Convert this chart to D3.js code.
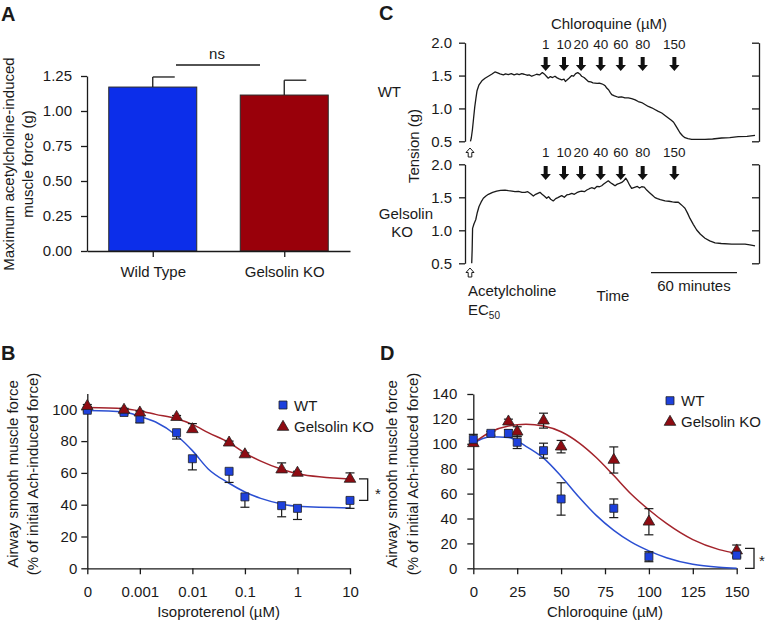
<!DOCTYPE html>
<html><head><meta charset="utf-8">
<script src="https://cdn.jsdelivr.net/npm/d3@7"></script>
<style>
body{margin:0;background:#fff}
svg{display:block;font-family:"Liberation Sans",Arial,Helvetica,sans-serif}
</style></head><body>
<svg id="c" width="767" height="623"></svg>
<script>
// ================= DATA =================
// Panel A
const groupsA = ["Wild Type", "Gelsolin KO"];
const meansA = [1.171, 1.114];
const semA = [0.072, 0.106];
const ticksA = [0, 0.25, 0.5, 0.75, 1.0, 1.25];

// Panel B (isoproterenol, µM; 0 drawn at the axis origin)
const isoConc = [0, 0.0005, 0.001, 0.005, 0.01, 0.05, 0.1, 0.5, 1, 10];
const isoWT = [99.4, 98.0, 94.0, 85.3, 68.9, 61.0, 44.9, 39.4, 37.7, 42.7];
const isoWTsem = [1.0, 1.0, 2.5, 4.0, 7.0, 7.0, 6.5, 7.0, 7.0, 5.0];
const isoKO = [102.0, 99.6, 97.9, 95.1, 87.4, 79.0, 71.6, 62.1, 60.0, 56.2];
const isoKOsem = [1.0, 1.0, 1.0, 1.0, 3.6, 1.0, 1.0, 4.2, 1.0, 3.8];
const isoFitConc = [0, 0.0005, 0.001, 0.002, 0.005, 0.01, 0.02, 0.05, 0.1, 0.2, 0.5, 1, 10];
const isoFitWT = [99.2, 98.3, 95.5, 92.0, 83.5, 74.0, 62.5, 53.5, 48.0, 44.0, 40.5, 39.0, 38.0];
const isoFitKO = [101.1, 100.4, 99.0, 96.8, 94.0, 90.5, 85.3, 79.0, 72.5, 67.4, 62.3, 59.5, 56.2];
const isoTicks = [0, 0.001, 0.01, 0.1, 1, 10];
const isoTickLabels = ["0", "0.001", "0.01", "0.1", "1", "10"];
const forceTicksB = [0, 20, 40, 60, 80, 100];
const sigBracketB = [56.2, 42.7];

// Panel C (time in minutes, tension in g)
const wtTime = [1.0,1.6,2.4,3.2,4.0,4.8,5.6,7.0,9.0,11.2,13.5,15.8,18.1,20.0,21.6,24.0,25.5,27.4,29.5,31.5,33.5,35.0,36.8,38.5,40.5,42.0,43.8,45.5,47.2,49.2,51.2,52.5,54.0,55.3,56.8,58.3,60.0,61.5,63.0,64.7,66.3,67.3,68.2,69.8,71.7,73.0,74.4,75.9,77.3,78.6,80.3,81.8,83.3,85.0,86.5,87.9,89.5,91.0,92.6,94.0,95.2,96.1,97.5,98.6,99.6,101.5,104.2,106.5,108.8,111.2,113.5,116.0,118.1,120.5,122.8,125.1,127.5,130.0,132.1,134.5,137.0,139.1,141.2,142.8,143.8,145.3,147.2,149.0,150.7,152.8,155.4,160.0,164.7,170.0,176.3,182.0,187.9,194.0,199.6];
const wtTension = [0.50,0.55,0.68,0.85,1.02,1.15,1.27,1.36,1.42,1.46,1.49,1.52,1.555,1.54,1.525,1.51,1.525,1.515,1.53,1.51,1.525,1.515,1.53,1.52,1.505,1.51,1.49,1.505,1.52,1.51,1.545,1.525,1.49,1.46,1.485,1.47,1.49,1.465,1.45,1.435,1.445,1.41,1.43,1.46,1.50,1.49,1.53,1.545,1.525,1.49,1.47,1.44,1.41,1.405,1.39,1.385,1.38,1.385,1.375,1.36,1.34,1.31,1.28,1.24,1.21,1.19,1.17,1.175,1.16,1.16,1.15,1.13,1.105,1.09,1.06,1.03,1.01,0.98,0.955,0.93,0.89,0.855,0.82,0.79,0.755,0.70,0.63,0.585,0.555,0.54,0.53,0.53,0.53,0.535,0.55,0.555,0.57,0.575,0.59];
const koTime = [1.9,2.2,2.5,3.5,4.7,5.8,7.0,8.5,10.0,11.8,13.5,16.5,19.3,22.0,25.1,27.5,30.0,32.1,34.5,37.0,39.1,41.0,43.0,44.9,46.5,48.0,49.5,51.0,52.5,54.2,55.5,57.0,58.8,60.5,62.0,63.3,64.7,66.5,68.2,70.0,71.7,73.5,75.2,77.0,78.6,80.5,82.2,84.0,85.6,87.5,89.2,91.0,92.6,94.0,95.5,97.2,98.8,100.3,101.9,103.5,105.0,106.6,108.0,109.4,110.8,112.2,113.5,115.5,117.5,119.0,120.5,122.3,124.0,126.0,128.0,129.8,131.5,133.5,136.8,139.5,142.0,144.0,146.1,147.5,149.0,150.7,152.5,154.2,156.5,158.9,161.5,164.7,168.0,171.7,176.0,183.3,188.0,192.6,196.0,199.6];
const koTension = [0.50,0.70,1.03,1.10,1.16,1.27,1.36,1.43,1.485,1.52,1.545,1.575,1.595,1.605,1.61,1.60,1.595,1.585,1.59,1.575,1.575,1.585,1.555,1.52,1.545,1.56,1.575,1.545,1.52,1.485,1.51,1.47,1.445,1.48,1.495,1.51,1.525,1.50,1.535,1.545,1.56,1.545,1.57,1.585,1.595,1.585,1.61,1.63,1.645,1.63,1.665,1.66,1.675,1.70,1.725,1.75,1.72,1.70,1.675,1.70,1.71,1.725,1.75,1.79,1.74,1.68,1.635,1.65,1.665,1.64,1.66,1.655,1.61,1.57,1.53,1.495,1.48,1.465,1.445,1.44,1.43,1.425,1.425,1.40,1.37,1.335,1.26,1.18,1.09,1.005,0.94,0.88,0.84,0.81,0.80,0.79,0.79,0.79,0.78,0.765];
const cqAddTimes = [53.5, 66.3, 78.2, 91.9, 105.9, 121.2, 143.3];
const cqAddLabels = ["1", "10", "20", "40", "60", "80", "150"];
const tensionTicks = [0.5, 1.0, 1.5, 2.0];
const achTime = 0.7;
const scaleBarStart = 127;
const scaleBarMinutes = 60;

// Panel D (chloroquine, µM)
const cqConcWT = [0, 10, 20, 25, 40, 50, 80, 100, 150];
const cqWT = [103.6, 108.4, 108.4, 101.2, 94.5, 55.7, 48.2, 9.3, 10.5];
const cqWTsem = [4.0, 1.5, 3.0, 5.0, 6.0, 13.0, 7.5, 4.0, 2.0];
const cqConcKO = [0, 20, 25, 40, 50, 80, 100, 150];
const cqKO = [100.4, 117.8, 109.7, 118.6, 97.7, 87.0, 37.4, 14.2];
const cqKOsem = [2.0, 2.0, 4.0, 6.0, 5.0, 10.5, 10.5, 4.5];
const cqFitConcWT = [0, 5, 10, 20, 30, 40, 50, 60, 70, 80, 90, 100, 110, 125, 140, 150];
const cqFitWT = [100.4, 104.0, 105.7, 105.0, 98.0, 88.5, 74.0, 57.5, 42.5, 30.5, 21.0, 14.0, 8.5, 3.2, 0.8, 0.0];
const cqFitConcKO = [0, 10, 20, 30, 40, 50, 60, 70, 80, 90, 100, 110, 125, 140, 150];
const cqFitKO = [100.5, 109.7, 114.3, 115.7, 114.3, 109.7, 101.0, 89.0, 74.5, 59.5, 47.0, 36.0, 23.0, 15.0, 12.0];
const cqTicks = [0, 25, 50, 75, 100, 125, 150];
const forceTicksD = [0, 20, 40, 60, 80, 100, 120, 140];
const sigBracketD = [16, 0];

// ================= DRAWING =================
const svg = d3.select("#c");
const INK = "#1a1a1a";
const BLUE_BAR = "#0c2eea", RED_BAR = "#99000a";
const BLUE_PT = "#1d40dc", RED_PT = "#8e0b12";
const BLUE_LN = "#2b4fd2", RED_LN = "#a3232b";

function text(x, y, s, o = {}) {
  const t = svg.append("text").attr("x", x).attr("y", y)
    .attr("font-size", o.size || 15).attr("fill", INK)
    .attr("text-anchor", o.anchor || "start");
  if (o.weight) t.attr("font-weight", o.weight);
  if (o.rotate) t.attr("transform", `rotate(-90,${x},${y})`);
  t.text(s);
  return t;
}
function styleAxis(g, size) {
  g.selectAll(".domain").attr("stroke", INK).attr("stroke-width", 1.3);
  g.selectAll(".tick line").attr("stroke", INK).attr("stroke-width", 1.3);
  g.selectAll(".tick text").attr("font-size", size || 15).attr("fill", INK)
    .attr("font-family", '"Liberation Sans",Arial,Helvetica,sans-serif');
}
const sq = d3.symbol().type(d3.symbolSquare).size(64);
const tri = d3.symbol().type(d3.symbolTriangle).size(58);

// ---------- Panel A ----------
text(1, 21, "A", { size: 20, weight: "bold" });
const yA = d3.scaleLinear().domain([0, 1.25]).range([251, 76]);
const xA = d3.scalePoint().domain(groupsA).range([87, 350]).padding(0.5);
const barW = 88;
svg.append("g").selectAll("rect").data(groupsA).join("rect")
  .attr("x", d => xA(d) - barW / 2).attr("y", (d, i) => yA(meansA[i]))
  .attr("width", barW).attr("height", (d, i) => yA(0) - yA(meansA[i]))
  .attr("fill", (d, i) => i === 0 ? BLUE_BAR : RED_BAR)
  .attr("stroke", "#2a2a2a").attr("stroke-width", 1);
const errA = svg.append("g").attr("stroke", INK).attr("stroke-width", 1.3);
groupsA.forEach((g, i) => {
  const x = xA(g), yt = yA(meansA[i] + semA[i]);
  errA.append("line").attr("x1", x).attr("x2", x).attr("y1", yA(meansA[i])).attr("y2", yt);
  errA.append("line").attr("x1", x).attr("x2", x + 22).attr("y1", yt).attr("y2", yt);
});
const axAy = svg.append("g").attr("transform", "translate(87,0)")
  .call(d3.axisLeft(yA).tickValues(ticksA).tickFormat(d3.format(".2f")).tickSize(6).tickSizeOuter(0).tickPadding(9));
styleAxis(axAy);
const axAx = svg.append("g").attr("transform", "translate(0,251)")
  .call(d3.axisBottom(xA).tickSize(6).tickSizeOuter(0).tickPadding(9));
styleAxis(axAx);
svg.append("line").attr("x1", 176).attr("x2", 260).attr("y1", 65).attr("y2", 65).attr("stroke", INK).attr("stroke-width", 1.3);
text(217, 59, "ns", { anchor: "middle" });
text(14, 164, "Maximum acetylcholine-induced", { rotate: true, anchor: "middle" });
text(33, 164, "muscle force (g)", { rotate: true, anchor: "middle" });

// ---------- Panel B ----------
text(1, 360, "B", { size: 20, weight: "bold" });
const yB = d3.scaleLinear().domain([0, 110]).range([568.3, 393.4]);
const xBlog = d3.scaleLog().domain([1e-4, 10]).range([87.3, 350]);
const xB = v => xBlog(v === 0 ? 1e-4 : v);
const axBy = svg.append("g").attr("transform", "translate(87.3,0)")
  .call(d3.axisLeft(yB).tickValues(forceTicksB).tickSize(6).tickSizeOuter(0).tickPadding(4));
styleAxis(axBy);
const axBx = svg.append("g").attr("transform", "translate(0,568.3)")
  .call(d3.axisBottom(xBlog).tickValues(isoTicks.map(v => v === 0 ? 1e-4 : v))
    .tickFormat((d, i) => isoTickLabels[i]).tickSize(6).tickSizeOuter(0).tickPadding(12));
styleAxis(axBx);
const lineB = d3.line().x(d => xB(d[0])).y(d => yB(d[1])).curve(d3.curveMonotoneX);
svg.append("path").attr("d", lineB(isoFitConc.map((c, i) => [c, isoFitWT[i]])))
  .attr("fill", "none").attr("stroke", BLUE_LN).attr("stroke-width", 1.5);
svg.append("path").attr("d", lineB(isoFitConc.map((c, i) => [c, isoFitKO[i]])))
  .attr("fill", "none").attr("stroke", RED_LN).attr("stroke-width", 1.5);
const errB = svg.append("g").attr("stroke", INK).attr("stroke-width", 1.2);
isoConc.forEach((c, i) => {
  const x = xB(c);
  const yw = yB(isoWT[i] - isoWTsem[i]);
  errB.append("line").attr("x1", x).attr("x2", x).attr("y1", yB(isoWT[i])).attr("y2", yw);
  errB.append("line").attr("x1", x - 4.5).attr("x2", x + 4.5).attr("y1", yw).attr("y2", yw);
  const yk = yB(isoKO[i] + isoKOsem[i]);
  errB.append("line").attr("x1", x).attr("x2", x).attr("y1", yB(isoKO[i])).attr("y2", yk);
  errB.append("line").attr("x1", x - 4.5).attr("x2", x + 4.5).attr("y1", yk).attr("y2", yk);
});
svg.append("g").selectAll("path").data(isoConc).join("path")
  .attr("d", sq).attr("transform", (c, i) => `translate(${xB(c)},${yB(isoWT[i])})`)
  .attr("fill", BLUE_PT).attr("stroke", "#222").attr("stroke-width", 0.8);
svg.append("g").selectAll("path").data(isoConc).join("path")
  .attr("d", tri).attr("transform", (c, i) => `translate(${xB(c)},${yB(isoKO[i])})`)
  .attr("fill", RED_PT).attr("stroke", "#222").attr("stroke-width", 0.8);
// legend B
svg.append("path").attr("d", sq).attr("transform", "translate(283,405)").attr("fill", BLUE_PT).attr("stroke", "#222").attr("stroke-width", 0.8);
svg.append("path").attr("d", tri).attr("transform", "translate(283,427)").attr("fill", RED_PT).attr("stroke", "#222").attr("stroke-width", 0.8);
text(294, 410.5, "WT");
text(294, 432, "Gelsolin KO");
// significance bracket B
svg.append("path").attr("fill", "none").attr("stroke", INK).attr("stroke-width", 1.3)
  .attr("d", `M359,${yB(sigBracketB[0])}H367.7V${yB(sigBracketB[1])}H359`);
text(375, 499, "*");
text(218.6, 617, "Isoproterenol (\u00b5M)", { anchor: "middle" });
text(17.5, 474, "Airway smooth muscle force", { rotate: true, anchor: "middle" });
text(38, 474, "(% of initial Ach-induced force)", { rotate: true, anchor: "middle" });

// ---------- Panel C ----------
text(379, 20, "C", { size: 20, weight: "bold" });
const xT = d3.scaleLinear().domain([0, 200]).range([469, 755.6]);
const yTop = d3.scaleLinear().domain([0.5, 2.0]).range([141.3, 42.7]);
const yBot = d3.scaleLinear().domain([0.5, 2.0]).range([263.3, 164.3]);
[yTop, yBot].forEach(ys => {
  const l = svg.append("g").attr("transform", "translate(465,0)")
    .call(d3.axisLeft(ys).tickValues(tensionTicks).tickFormat(d3.format(".1f")).tickSize(6).tickSizeOuter(0).tickPadding(7));
  styleAxis(l);
  const r = svg.append("g").attr("transform", "translate(759,0)")
    .call(d3.axisLeft(ys).tickValues(tensionTicks).tickFormat("").tickSize(7).tickSizeOuter(0));
  styleAxis(r);
});
const lineT = ys => d3.line().x(d => xT(d[0])).y(d => ys(d[1]));
svg.append("path").attr("d", lineT(yTop)(wtTime.map((t, i) => [t, wtTension[i]])))
  .attr("fill", "none").attr("stroke", INK).attr("stroke-width", 1.3).attr("stroke-linejoin", "round");
svg.append("path").attr("d", lineT(yBot)(koTime.map((t, i) => [t, koTension[i]])))
  .attr("fill", "none").attr("stroke", INK).attr("stroke-width", 1.3).attr("stroke-linejoin", "round");
function downArrow(x, y0) {
  const h = 14, hh = 6, sw = 2, hw = 5.2;
  return `M${x - sw},${y0}H${x + sw}V${y0 + h - hh}H${x + hw}L${x},${y0 + h}L${x - hw},${y0 + h - hh}H${x - sw}Z`;
}
function upArrowOpen(x, y0) {
  return `M${x},${y0}L${x + 4},${y0 + 4.5}H${x + 1.8}V${y0 + 9}H${x - 1.8}V${y0 + 4.5}H${x - 4}Z`;
}
[[57, 48.5], [166, 156.5]].forEach(([ay, ly]) => {
  cqAddTimes.forEach((t, i) => {
    svg.append("path").attr("d", downArrow(xT(t), ay)).attr("fill", "#111");
    text(xT(t), ly, cqAddLabels[i], { anchor: "middle", size: 13.5 });
  });
});
[148, 268].forEach(y0 => {
  svg.append("path").attr("d", upArrowOpen(xT(achTime), y0)).attr("fill", "#fff").attr("stroke", INK).attr("stroke-width", 1);
});
text(609, 29, "Chloroquine (\u00b5M)", { anchor: "middle" });
text(401, 97, "WT", { anchor: "end" });
text(433, 219, "Gelsolin", { anchor: "end" });
text(413, 237, "KO", { anchor: "end" });
text(419, 146, "Tension (g)", { rotate: true, anchor: "middle" });
text(468, 296, "Acetylcholine");
const ec = text(468, 315, "EC");
ec.append("tspan").attr("font-size", 10).attr("dy", 4).text("50");
text(613, 301, "Time", { anchor: "middle" });
svg.append("line").attr("x1", xT(scaleBarStart)).attr("x2", xT(scaleBarStart + scaleBarMinutes))
  .attr("y1", 272.7).attr("y2", 272.7).attr("stroke", INK).attr("stroke-width", 1.3);
text((xT(scaleBarStart) + xT(scaleBarStart + scaleBarMinutes)) / 2, 291, "60 minutes", { anchor: "middle" });

// ---------- Panel D ----------
text(380, 360, "D", { size: 20, weight: "bold" });
const yD = d3.scaleLinear().domain([0, 140]).range([568.3, 394]);
const xD = d3.scaleLinear().domain([0, 150]).range([473.3, 736.7]);
const axDy = svg.append("g").attr("transform", "translate(473.3,0)")
  .call(d3.axisLeft(yD).tickValues(forceTicksD).tickSize(6).tickSizeOuter(0).tickPadding(10));
styleAxis(axDy);
const axDx = svg.append("g").attr("transform", "translate(0,568.3)")
  .call(d3.axisBottom(xD).tickValues(cqTicks).tickSize(6).tickSizeOuter(0).tickPadding(12));
styleAxis(axDx);
const lineD = d3.line().x(d => xD(d[0])).y(d => yD(d[1])).curve(d3.curveMonotoneX);
svg.append("path").attr("d", lineD(cqFitConcWT.map((c, i) => [c, cqFitWT[i]])))
  .attr("fill", "none").attr("stroke", BLUE_LN).attr("stroke-width", 1.5);
svg.append("path").attr("d", lineD(cqFitConcKO.map((c, i) => [c, cqFitKO[i]])))
  .attr("fill", "none").attr("stroke", RED_LN).attr("stroke-width", 1.5);
const errD = svg.append("g").attr("stroke", INK).attr("stroke-width", 1.2);
function ebar(x, v, s, ys) {
  const a = ys(v + s), b = ys(v - s);
  errD.append("line").attr("x1", x).attr("x2", x).attr("y1", a).attr("y2", b);
  errD.append("line").attr("x1", x - 4.5).attr("x2", x + 4.5).attr("y1", a).attr("y2", a);
  errD.append("line").attr("x1", x - 4.5).attr("x2", x + 4.5).attr("y1", b).attr("y2", b);
}
cqConcKO.forEach((c, i) => ebar(xD(c), cqKO[i], cqKOsem[i], yD));
cqConcWT.forEach((c, i) => ebar(xD(c), cqWT[i], cqWTsem[i], yD));
svg.append("g").selectAll("path").data(cqConcKO).join("path")
  .attr("d", tri).attr("transform", (c, i) => `translate(${xD(c)},${yD(cqKO[i])})`)
  .attr("fill", RED_PT).attr("stroke", "#222").attr("stroke-width", 0.8);
svg.append("g").selectAll("path").data(cqConcWT).join("path")
  .attr("d", sq).attr("transform", (c, i) => `translate(${xD(c)},${yD(cqWT[i])})`)
  .attr("fill", BLUE_PT).attr("stroke", "#222").attr("stroke-width", 0.8);
svg.append("path").attr("d", sq).attr("transform", "translate(670,400.7)").attr("fill", BLUE_PT).attr("stroke", "#222").attr("stroke-width", 0.8);
svg.append("path").attr("d", tri).attr("transform", "translate(670,422)").attr("fill", RED_PT).attr("stroke", "#222").attr("stroke-width", 0.8);
text(681, 406, "WT");
text(681, 427, "Gelsolin KO");
svg.append("path").attr("fill", "none").attr("stroke", INK).attr("stroke-width", 1.3)
  .attr("d", `M745,${yD(sigBracketD[0])}H754V${yD(sigBracketD[1])}H745`);
text(759, 566, "*");
text(605, 617, "Chloroquine (\u00b5M)", { anchor: "middle" });
text(397, 474, "Airway smooth muscle force", { rotate: true, anchor: "middle" });
text(418, 474, "(% of initial Ach-induced force)", { rotate: true, anchor: "middle" });
</script>
</body></html>
